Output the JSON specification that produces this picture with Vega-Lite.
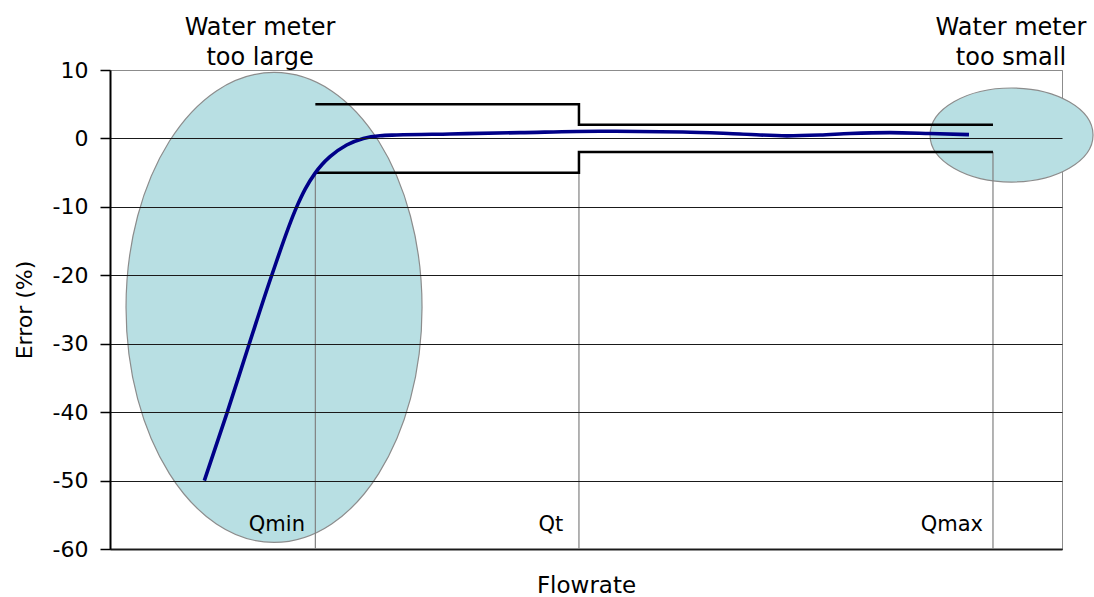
{
  "$schema": "https://vega.github.io/schema/vega-lite/v6.json",
  "width": 952,
  "height": 479,
  "autosize": {"type": "none"},
  "padding": {"left": 110, "top": 70, "right": 32, "bottom": 48},
  "background": "white",
  "config": {
    "font": "DejaVu Sans",
    "view": {"stroke": "#8c8c8c", "strokeWidth": 1}
  },
  "datasets": {
    "curve": [
      {"flow": 9.91, "error": -50},
      {"flow": 12.32, "error": -40},
      {"flow": 14.63, "error": -30},
      {"flow": 16.99, "error": -20},
      {"flow": 19.61, "error": -10},
      {"flow": 20.5, "error": -7.4},
      {"flow": 21.53, "error": -5.1},
      {"flow": 22.25, "error": -3.85},
      {"flow": 23.11, "error": -2.67},
      {"flow": 24.86, "error": -0.96},
      {"flow": 26.61, "error": 0.0},
      {"flow": 28.36, "error": 0.4},
      {"flow": 30.12, "error": 0.5},
      {"flow": 35.71, "error": 0.65},
      {"flow": 43.07, "error": 0.85},
      {"flow": 51.47, "error": 1.05},
      {"flow": 60.19, "error": 0.95},
      {"flow": 66.18, "error": 0.65},
      {"flow": 71.11, "error": 0.38},
      {"flow": 74.58, "error": 0.5},
      {"flow": 77.73, "error": 0.72},
      {"flow": 81.93, "error": 0.85},
      {"flow": 86.13, "error": 0.72},
      {"flow": 90.23, "error": 0.55}
    ],
    "tolerance": [
      {"band": "upper", "i": 1, "flow": 21.57, "error": 5},
      {"band": "upper", "i": 2, "flow": 49.26, "error": 5},
      {"band": "upper", "i": 3, "flow": 49.26, "error": 2},
      {"band": "upper", "i": 4, "flow": 92.75, "error": 2},
      {"band": "lower", "i": 1, "flow": 21.57, "error": -5},
      {"band": "lower", "i": 2, "flow": 49.26, "error": -5},
      {"band": "lower", "i": 3, "flow": 49.26, "error": -2},
      {"band": "lower", "i": 4, "flow": 92.75, "error": -2}
    ],
    "markers": [
      {"name": "Qmin", "flow": 21.57, "top": -5, "labelFlow": 20.48},
      {"name": "Qt", "flow": 49.26, "top": -2, "labelFlow": 47.6},
      {"name": "Qmax", "flow": 92.75, "top": -2, "labelFlow": 91.7}
    ],
    "zones": [
      {"zone": "large", "flow": 17.23, "error": -24.7, "titleFlow": 15.76, "label": "Water meter\ntoo large"},
      {"zone": "small", "flow": 94.7, "error": 0.5, "titleFlow": 94.64, "label": "Water meter\ntoo small"}
    ]
  },
  "encoding": {
    "x": {
      "type": "quantitative",
      "scale": {"domain": [0, 100], "nice": false, "zero": false},
      "axis": {
        "title": "Flowrate",
        "labels": false,
        "ticks": false,
        "grid": false,
        "domainColor": "#222222",
        "domainWidth": 2,
        "titleFont": "DejaVu Sans",
        "titleFontSize": 23,
        "titleFontWeight": "normal",
        "titleColor": "black",
        "titlePadding": 25
      }
    },
    "y": {
      "type": "quantitative",
      "scale": {"domain": [-60, 10], "nice": false, "zero": false},
      "axis": {
        "title": "Error (%)",
        "values": [-60, -50, -40, -30, -20, -10, 0, 10],
        "labelExpr": "'' + datum.value",
        "grid": true,
        "gridColor": {"condition": {"test": "datum.value == 10", "value": "#8c8c8c"}, "value": "#1a1a1a"},
        "gridWidth": 1,
        "domainColor": "black",
        "domainWidth": 2,
        "tickColor": "black",
        "tickSize": 10,
        "tickWidth": 1.5,
        "labelPadding": 12,
        "labelFont": "DejaVu Sans",
        "labelFontSize": 22,
        "labelColor": "black",
        "titleFont": "DejaVu Sans",
        "titleFontSize": 22,
        "titleFontWeight": "normal",
        "titleColor": "black",
        "titlePadding": 16,
        "zindex": 1
      }
    }
  },
  "layer": [
    {
      "data": {"name": "zones"},
      "transform": [{"filter": "datum.zone == 'large'"}],
      "mark": {
        "type": "point",
        "filled": true,
        "shape": "M -0.6298 0 A 0.6298 1 0 1 1 0.6298 0 A 0.6298 1 0 1 1 -0.6298 0 Z",
        "size": 220900,
        "fill": "#b8dfe3",
        "stroke": "#8c8c8c",
        "strokeWidth": 1.2,
        "opacity": 1
      },
      "encoding": {
        "x": {"field": "flow", "type": "quantitative"},
        "y": {"field": "error", "type": "quantitative"}
      }
    },
    {
      "data": {"name": "zones"},
      "transform": [{"filter": "datum.zone == 'small'"}],
      "mark": {
        "type": "point",
        "filled": true,
        "shape": "M -1 0 A 1 0.577 0 1 1 1 0 A 1 0.577 0 1 1 -1 0 Z",
        "size": 26569,
        "fill": "#b8dfe3",
        "stroke": "#8c8c8c",
        "strokeWidth": 1.2,
        "opacity": 1
      },
      "encoding": {
        "x": {"field": "flow", "type": "quantitative"},
        "y": {"field": "error", "type": "quantitative"}
      }
    },
    {
      "data": {"name": "markers"},
      "mark": {"type": "rule", "color": "#808080", "strokeWidth": 1.2},
      "encoding": {
        "x": {"field": "flow", "type": "quantitative"},
        "y": {"field": "top", "type": "quantitative"},
        "y2": {"datum": -60}
      }
    },
    {
      "data": {"name": "tolerance"},
      "mark": {"type": "line", "color": "black", "strokeWidth": 2.5, "interpolate": "linear"},
      "encoding": {
        "x": {"field": "flow", "type": "quantitative"},
        "y": {"field": "error", "type": "quantitative"},
        "detail": {"field": "band"},
        "order": {"field": "i", "type": "quantitative"}
      }
    },
    {
      "data": {"name": "curve"},
      "mark": {"type": "line", "color": "#000088", "strokeWidth": 3.6, "interpolate": "monotone"},
      "encoding": {
        "x": {"field": "flow", "type": "quantitative"},
        "y": {"field": "error", "type": "quantitative"}
      }
    },
    {
      "data": {"name": "markers"},
      "mark": {"type": "text", "align": "right", "baseline": "middle", "font": "DejaVu Sans", "fontSize": 21, "color": "black"},
      "encoding": {
        "x": {"field": "labelFlow", "type": "quantitative"},
        "y": {"datum": -56.5},
        "text": {"field": "name"}
      }
    },
    {
      "data": {"name": "zones"},
      "mark": {"type": "text", "align": "center", "baseline": "middle", "lineBreak": "\n", "lineHeight": 30, "font": "DejaVu Sans", "fontSize": 24, "color": "black"},
      "encoding": {
        "x": {"field": "titleFlow", "type": "quantitative"},
        "y": {"datum": 16.2},
        "text": {"field": "label"}
      }
    }
  ]
}
